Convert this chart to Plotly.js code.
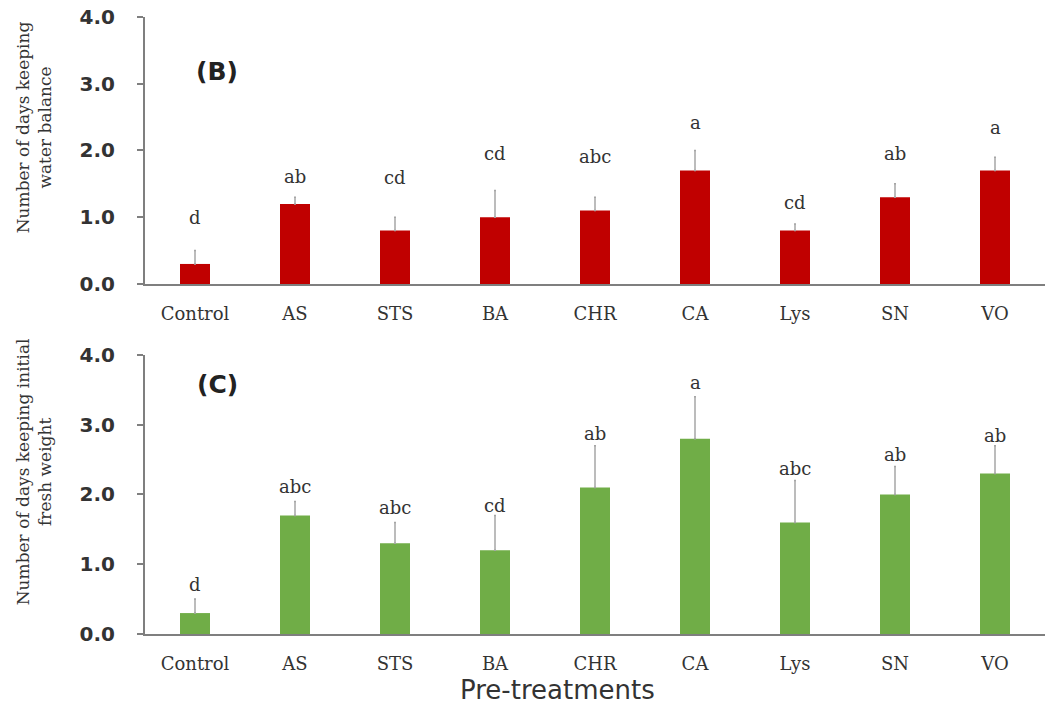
<!DOCTYPE html>
<html>
<head>
<meta charset="utf-8">
<script src="https://cdn.plot.ly/plotly-3.0.1.min.js"></script>
<style>html,body{margin:0;padding:0;background:#fff;}#chart{width:1055px;height:708px;}</style>
</head>
<body>
<div id="chart"></div>
<script>
const categories = ['Control','AS','STS','BA','CHR','CA','Lys','SN','VO'];
const waterBalance = [0.3,1.2,0.8,1.0,1.1,1.7,0.8,1.3,1.7];
const waterBalanceErr = [0.2,0.1,0.2,0.4,0.2,0.3,0.1,0.2,0.2];
const waterBalanceLetters = ['d','ab','cd','cd','abc','a','cd','ab','a'];
const waterBalanceLetterY = [0.99,1.61,1.59,1.95,1.91,2.42,1.22,1.95,2.34];
const freshWeight = [0.3,1.7,1.3,1.2,2.1,2.8,1.6,2.0,2.3];
const freshWeightErr = [0.2,0.2,0.3,0.5,0.6,0.6,0.6,0.4,0.4];
const freshWeightLetters = ['d','abc','abc','cd','ab','a','abc','ab','ab'];
const freshWeightLetterY = [0.71,2.12,1.82,1.84,2.88,3.61,2.37,2.57,2.85];
const yTickVals = [0,1,2,3,4];
const yTickText = ['0.0','1.0','2.0','3.0','4.0'];

const zeros = categories.map(() => 0);
const errStyle = {type:'data', symmetric:false, color:'#a6a6a6', thickness:1.5, width:1};

const traces = [
  {type:'bar', x:categories, y:waterBalance, width:0.3, marker:{color:'#C00000'},
   error_y:Object.assign({array:waterBalanceErr, arrayminus:zeros}, errStyle),
   xaxis:'x', yaxis:'y', hoverinfo:'skip'},
  {type:'bar', x:categories, y:freshWeight, width:0.3, marker:{color:'#70AD47'},
   error_y:Object.assign({array:freshWeightErr, arrayminus:zeros}, errStyle),
   xaxis:'x2', yaxis:'y2', hoverinfo:'skip'}
];

const letterFont = {family:'DejaVu Serif', size:18, color:'#333333'};
const annotations = [];
categories.forEach((c,i) => {
  annotations.push({xref:'x', yref:'y', x:c, y:waterBalanceLetterY[i], text:waterBalanceLetters[i],
    showarrow:false, font:letterFont, xanchor:'center', yanchor:'middle'});
  annotations.push({xref:'x2', yref:'y2', x:c, y:freshWeightLetterY[i], text:freshWeightLetters[i],
    showarrow:false, font:letterFont, xanchor:'center', yanchor:'middle'});
});
const panelFont = {family:'DejaVu Sans', size:25, color:'#222222', weight:'bold'};
annotations.push({xref:'paper', yref:'paper', x:0.08, y:0.911, text:'(B)', showarrow:false,
  font:panelFont, xanchor:'center', yanchor:'middle'});
annotations.push({xref:'paper', yref:'paper', x:0.08, y:0.4036, text:'(C)', showarrow:false,
  font:panelFont, xanchor:'center', yanchor:'middle'});
const yTitleFont = {family:'DejaVu Serif', size:17, color:'#333333'};
annotations.push({xref:'paper', yref:'paper', x:-0.123, y:0.8217, textangle:-90,
  text:'Number of days keeping<br>water balance', showarrow:false, font:yTitleFont,
  xanchor:'center', yanchor:'middle'});
annotations.push({xref:'paper', yref:'paper', x:-0.123, y:0.2626, textangle:-90,
  text:'Number of days keeping initial<br>fresh weight', showarrow:false, font:yTitleFont,
  xanchor:'center', yanchor:'middle'});
annotations.push({xref:'paper', yref:'paper', x:0.458, y:-0.0908,
  text:'Pre-treatments', showarrow:false,
  font:{family:'DejaVu Sans', size:26, color:'#333333'}, xanchor:'center', yanchor:'middle'});

const xCommon = {type:'category', range:[-0.5,8.5], showline:true, linecolor:'#7f7f7f', linewidth:2,
  showgrid:false, zeroline:false, ticks:'outside', ticklen:12, tickcolor:'rgba(0,0,0,0)',
  tickfont:{family:'DejaVu Serif', size:18, color:'#333333'}, fixedrange:true};
const yCommon = {range:[0,4], tickvals:yTickVals, ticktext:yTickText, showline:true, linecolor:'#7f7f7f',
  linewidth:2, showgrid:false, zeroline:false, ticks:'outside', ticklen:6, tickwidth:2, tickcolor:'#7f7f7f',
  ticklabelstandoff:18,
  tickfont:{family:'DejaVu Sans', size:20, color:'#333333', weight:'bold'}, fixedrange:true};

const layout = {
  width:1055, height:708,
  margin:{l:145, r:10, t:17, b:74},
  paper_bgcolor:'#ffffff', plot_bgcolor:'#ffffff',
  showlegend:false,
  xaxis:Object.assign({}, xCommon, {anchor:'y', domain:[0,1]}),
  yaxis:Object.assign({}, yCommon, {anchor:'x', domain:[0.5673,1]}),
  xaxis2:Object.assign({}, xCommon, {anchor:'y2', domain:[0,1]}),
  yaxis2:Object.assign({}, yCommon, {anchor:'x2', domain:[0,0.4522]}),
  annotations:annotations
};

Plotly.newPlot('chart', traces, layout, {displayModeBar:false, staticPlot:true});
</script>
</body>
</html>
